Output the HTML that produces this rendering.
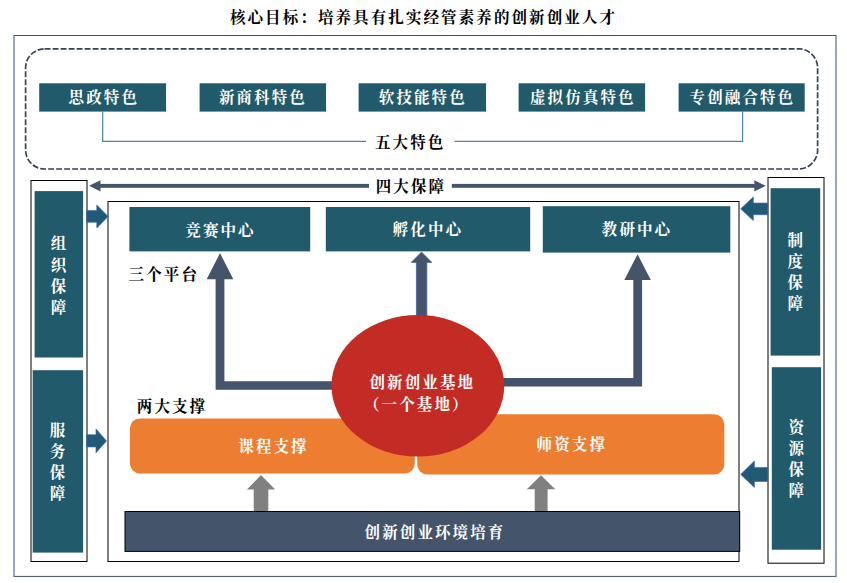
<!DOCTYPE html>
<html lang="zh-CN">
<head>
<meta charset="utf-8">
<title>核心目标</title>
<style>
html,body{margin:0;padding:0;background:#fff;}
body{width:847px;height:583px;overflow:hidden;}
svg{display:block;}
text{font-family:"Liberation Serif","Noto Serif CJK SC",serif;font-weight:bold;font-size:15.5px;letter-spacing:2.1px;}
.w{fill:#fff;}
.k{fill:#000;}
.teal{fill:#215a6a;}
.slate{fill:#44546a;}
</style>
</head>
<body>
<svg width="847" height="583" viewBox="0 0 847 583">
<rect x="0" y="0" width="847" height="583" fill="#fff"/>
<!-- title -->
<text class="k" x="423.5" y="17.3" text-anchor="middle" dominant-baseline="central">核心目标：培养具有扎实经管素养的创新创业人才</text>
<!-- outer frame -->
<rect x="14" y="35.5" width="822" height="540.9" fill="none" stroke="#3a4f72" stroke-width="1"/>
<!-- dashed box -->
<rect x="25.6" y="48.8" width="792" height="120.2" rx="19" ry="19" fill="none" stroke="#384356" stroke-width="1.7" stroke-dasharray="6 2"/>
<!-- five features -->
<g>
<rect class="teal" x="39.2" y="83.3" width="126.85" height="28.3"/>
<rect class="teal" x="199.6" y="83.3" width="126.45" height="28.3"/>
<rect class="teal" x="358.6" y="83.3" width="127.45" height="28.3"/>
<rect class="teal" x="518.6" y="83.3" width="126.5" height="28.3"/>
<rect class="teal" x="678.6" y="83.3" width="126.1" height="28.3"/>
<text class="w" x="103.8" y="97.6" text-anchor="middle" dominant-baseline="central">思政特色</text>
<text class="w" x="262.9" y="97.6" text-anchor="middle" dominant-baseline="central">新商科特色</text>
<text class="w" x="422.8" y="97.6" text-anchor="middle" dominant-baseline="central">软技能特色</text>
<text class="w" x="582.8" y="97.6" text-anchor="middle" dominant-baseline="central">虚拟仿真特色</text>
<text class="w" x="742.4" y="97.6" text-anchor="middle" dominant-baseline="central">专创融合特色</text>
</g>
<path d="M102.7 111.6 V141.3 H366" fill="none" stroke="#4d84a0" stroke-width="1.2"/>
<path d="M454.6 141.3 H742.6 V111.6" fill="none" stroke="#4d84a0" stroke-width="1.2"/>
<text class="k" x="410.2" y="142" text-anchor="middle" dominant-baseline="central">五大特色</text>
<!-- four guarantees arrow -->
<g class="slate">
<rect x="98" y="183.9" width="271" height="3.9"/>
<rect x="451.8" y="183.9" width="304" height="3.9"/>
<polygon points="89.15,185.85 100.5,180.3 100.5,191.5"/>
<polygon points="765.7,185.85 754.3,180.3 754.3,191.5"/>
</g>
<text class="k" x="410.9" y="186" text-anchor="middle" dominant-baseline="central">四大保障</text>
<!-- left column -->
<rect x="31" y="180.5" width="56" height="381" fill="#fff" stroke="#000" stroke-width="1"/>
<rect class="teal" x="34.6" y="191.1" width="48.5" height="166.4"/>
<rect class="teal" x="32.7" y="370.2" width="50.4" height="182.4"/>
<g class="w" text-anchor="middle" dominant-baseline="central" style="letter-spacing:0">
<text x="59.6" y="243.8">组</text><text x="59.6" y="265">织</text><text x="59.6" y="286.2">保</text><text x="59.6" y="307.4">障</text>
<text x="58.6" y="430.2">服</text><text x="58.6" y="451.4">务</text><text x="58.6" y="472.6">保</text><text x="58.6" y="493.8">障</text>
</g>
<!-- right column -->
<rect x="768" y="177.5" width="56" height="385.7" fill="#fff" stroke="#000" stroke-width="1"/>
<rect class="teal" x="770.6" y="188.2" width="49.6" height="167.4"/>
<rect class="teal" x="771.8" y="367.2" width="49.3" height="182.5"/>
<g class="w" text-anchor="middle" dominant-baseline="central" style="letter-spacing:0">
<text x="796.4" y="240.8">制</text><text x="796.4" y="261.7">度</text><text x="796.4" y="282.6">保</text><text x="796.4" y="303.6">障</text>
<text x="797.4" y="427.7">资</text><text x="797.4" y="448.5">源</text><text x="797.4" y="469.3">保</text><text x="797.4" y="490.1">障</text>
</g>
<!-- main inner box -->
<rect x="108" y="201.5" width="631" height="360" fill="#fff" stroke="#000" stroke-width="1"/>
<!-- three platforms -->
<rect class="teal" x="129.4" y="207" width="180.8" height="44.4"/>
<rect class="teal" x="325.8" y="207" width="204.4" height="44.4"/>
<rect class="teal" x="542.8" y="206.2" width="187.5" height="46.4"/>
<text class="w" x="220.5" y="230.4" text-anchor="middle" dominant-baseline="central">竞赛中心</text>
<text class="w" x="427.9" y="229.8" text-anchor="middle" dominant-baseline="central">孵化中心</text>
<text class="w" x="637" y="229.4" text-anchor="middle" dominant-baseline="central">教研中心</text>
<text class="k" x="128.6" y="274.5" dominant-baseline="central">三个平台</text>
<!-- elbow arrows -->
<g class="slate">
<path d="M215.6 279.2 H206.7 L220 253.1 L233.3 279.2 H224.4 V381.3 H340 V389.8 H215.6 Z"/>
<path d="M642.1 279.9 H650.8 L637.55 254.2 L624.3 279.9 H633.3 V378 H500 V386.6 H642.1 Z"/>
<path d="M416.4 330 V262.4 H411.2 L421.5 252.1 L431.9 262.4 H426.8 V330 Z" stroke="#4560a8" stroke-width="0.8"/>
</g>
<!-- two supports -->
<text class="k" x="136.8" y="406.2" dominant-baseline="central">两大支撑</text>
<rect x="129.9" y="418.4" width="284.9" height="55.1" rx="10" ry="10" fill="#ed7d31"/>
<rect x="417.2" y="414.2" width="307.1" height="60.3" rx="10" ry="10" fill="#ed7d31"/>
<text class="w" x="273.5" y="446" text-anchor="middle" dominant-baseline="central">课程支撑</text>
<text class="w" x="571.8" y="444.4" text-anchor="middle" dominant-baseline="central">师资支撑</text>
<!-- base circle -->
<ellipse cx="417.85" cy="385.8" rx="86.4" ry="70.8" fill="#c32b25"/>
<text class="w" x="369.5" y="382.2" dominant-baseline="central">创新创业基地</text>
<text class="w" x="364" y="404" dominant-baseline="central">（一个基地）</text>
<!-- gray arrows -->
<g fill="#808080">
<path d="M253.7 512 V489.4 H246.9 L261 475.1 L275.2 489.4 H268.3 V512 Z"/>
<path d="M534.7 512 V489.2 H526.8 L541 475.3 L555.3 489.2 H547.6 V512 Z"/>
</g>
<!-- bottom bar -->
<rect x="125" y="511.5" width="614.7" height="39.9" fill="#44546a" stroke="#000" stroke-width="1"/>
<text class="w" x="435" y="532" text-anchor="middle" dominant-baseline="central">创新创业环境培育</text>
<!-- side block arrows -->
<g fill="#215a74" stroke="#3c6cb0" stroke-width="0.7">
<path d="M86.6 210.6 H96.8 V205 L108.1 216.5 L96.8 228 V222.3 H86.6 Z"/>
<path d="M86.6 434.75 H96 V428.9 L106.5 440.9 L96 452.8 V446.9 H86.6 Z"/>
<path d="M767.9 203.1 H753.3 V197 L740.7 208.8 L753.3 220.6 V214.7 H767.9 Z"/>
<path d="M767.9 467.4 H754.4 V461 L740.7 474.4 L754.4 487.4 V481.5 H767.9 Z"/>
</g>
</svg>
</body>
</html>
